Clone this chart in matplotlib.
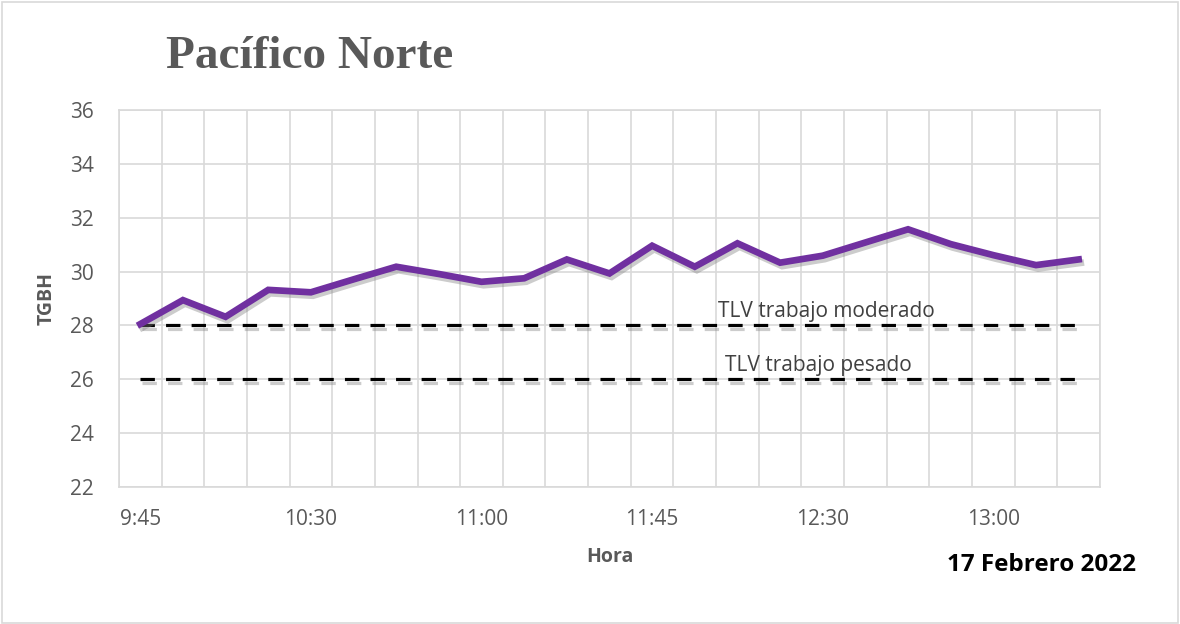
import matplotlib
matplotlib.use('Agg')
import matplotlib.pyplot as plt
import matplotlib.patheffects as pe
from matplotlib.patches import Rectangle
import numpy as np

# data
hora_labels = ['9:45', '', '', '', '10:30', '', '', '', '11:00', '', '', '',
               '11:45', '', '', '', '12:30', '', '', '', '13:00', '', '']
tgbh = [28.05, 28.94, 28.32, 29.32, 29.23, 29.71, 30.18, 29.91, 29.62, 29.75,
        30.45, 29.93, 30.96, 30.18, 31.05, 30.33, 30.59, 31.08, 31.57, 31.02,
        30.61, 30.24, 30.45]
tlv_moderado = 28
tlv_pesado = 26

gray_txt = '#595959'
grid_c = '#D9D9D9'
purple = '#7030A0'
font = 'Open Sans'

fig = plt.figure(figsize=(11.8, 6.24), dpi=100)
# chart border
fig.patches.append(Rectangle((0.002, 0.002), 0.996, 0.995, transform=fig.transFigure,
                             fill=False, edgecolor=grid_c, lw=1.2))

ax = fig.add_axes([0.1008, 0.2196, 0.8314, 0.6041])
x = np.arange(len(tgbh))

shadow = [pe.SimpleLineShadow(offset=(1.5, -2.5), shadow_color='gray', alpha=0.4),
          pe.Normal()]

ax.plot(x, [tlv_moderado] * len(x), color='black', lw=2.3, ls=(0, (4.5, 3.5)),
        path_effects=shadow, zorder=3)
ax.plot(x, [tlv_pesado] * len(x), color='black', lw=2.3, ls=(0, (4.5, 3.5)),
        path_effects=shadow, zorder=3)
ax.plot(x, tgbh, color=purple, lw=4.8, solid_joinstyle='miter',
        path_effects=shadow, zorder=4)

ax.text(13.55, 28.12, 'TLV trabajo moderado', fontsize=15, color='#404040',
        family=font, va='bottom')
ax.text(13.7, 26.12, 'TLV trabajo pesado', fontsize=15, color='#404040',
        family=font, va='bottom')

ax.set_xlim(-0.5, len(x) - 0.5)
ax.set_ylim(22, 36)
ax.set_yticks(np.arange(22, 37, 2))
ax.set_xticks(x[::4])
ax.set_xticklabels(hora_labels[::4])
ax.set_xticks(np.arange(-0.5, len(x), 1), minor=True)
ax.grid(True, which='minor', axis='x', color=grid_c, lw=1.2)
ax.grid(True, which='major', axis='y', color=grid_c, lw=1.2)
ax.tick_params(which='both', length=0)
ax.tick_params(axis='x', pad=16, labelsize=15, labelcolor=gray_txt)
ax.tick_params(axis='y', pad=18, labelsize=15, labelcolor=gray_txt)
for lbl in ax.get_xticklabels() + ax.get_yticklabels():
    lbl.set_family(font)
for s in ax.spines.values():
    s.set_color(grid_c)
    s.set_linewidth(1.2)
ax.set_axisbelow(True)

ax.set_ylabel('TGBH', fontsize=14, fontweight='bold', color=gray_txt, family=font, labelpad=10)
ax.set_xlabel('Hora', fontsize=14, fontweight='bold', color=gray_txt, family=font, labelpad=12)

fig.text(0.2627, 0.908, 'Pacífico Norte', fontsize=34, fontweight='bold',
         family='Liberation Serif', color=gray_txt, ha='center', va='center')
fig.text(0.883, 0.095, '17 Febrero 2022', fontsize=17.5, fontweight='bold',
         family=font, color='black', ha='center', va='center')

fig.savefig('out.png', dpi=100)
